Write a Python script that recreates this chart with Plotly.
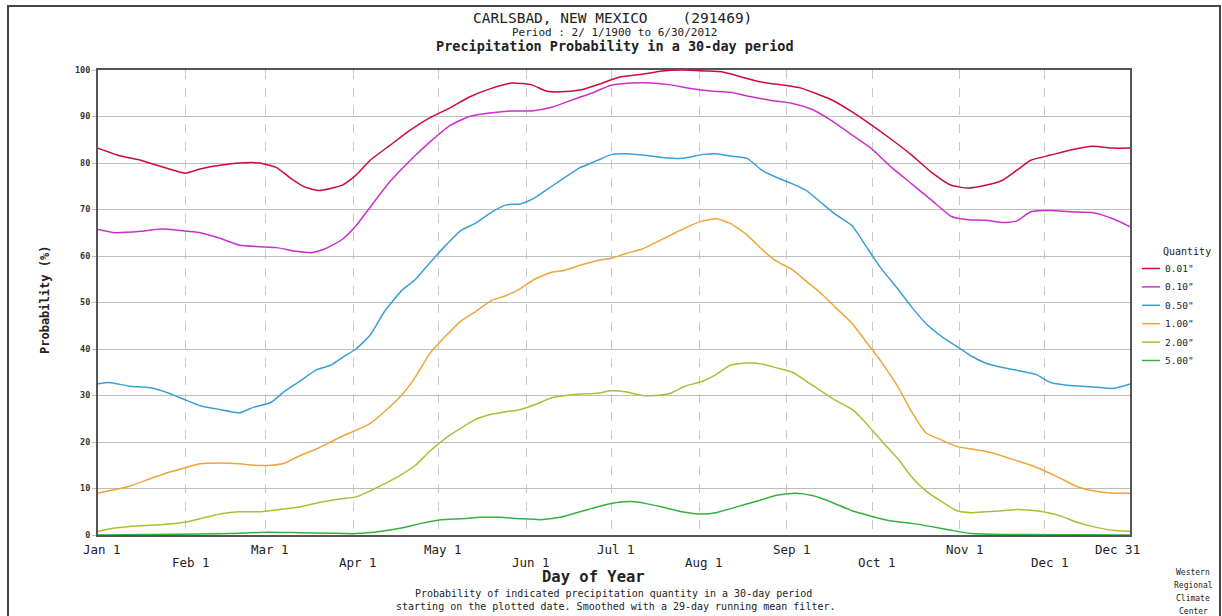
import plotly.graph_objects as go

# ---- data: day of year (0 = Jan 1) and probability (%) per quantity ----
days_001 = [0, 8, 15, 22, 29, 31, 36, 43, 50, 57, 63, 68, 73, 78, 86, 91, 96, 103, 110, 117,
            124, 131, 139, 146, 153, 158, 163, 170, 177, 184, 192, 199, 206, 214, 220, 227, 234, 241, 248, 253,
            259, 266, 273, 280, 287, 294, 301, 307, 313, 319, 324, 329, 336, 343, 351, 358, 364]
prob_001 = [83.2, 81.5, 80.6, 79.3, 78, 77.8, 78.7, 79.5, 80, 80, 79, 76.7, 74.8, 74.1, 75.2, 77.4, 80.6, 83.8, 87, 89.7,
            91.8, 94.2, 96.1, 97.2, 96.8, 95.5, 95.3, 95.7, 97, 98.5, 99.1, 99.8, 100, 99.8, 99.6, 98.5, 97.4, 96.8, 96.1, 95,
            93.5, 91, 88.1, 85, 81.7, 78, 75.2, 74.6, 75.2, 76.3, 78.4, 80.6, 81.7, 82.8, 83.6, 83.2, 83.2]

days_010 = [0, 6, 15, 22, 29, 36, 43, 50, 57, 63, 70, 75, 80, 86, 91, 96, 103, 110, 117, 124,
            131, 139, 146, 153, 160, 167, 174, 181, 188, 195, 202, 209, 216, 223, 230, 237, 245, 252, 259, 266,
            273, 280, 287, 294, 301, 307, 313, 319, 324, 329, 336, 343, 351, 358, 364]
prob_010 = [65.7, 65, 65.3, 65.8, 65.5, 65, 63.8, 62.3, 62, 61.8, 61, 60.7, 61.5, 63.5, 66.5, 70.5, 76, 80.5, 84.5, 88,
            90, 90.8, 91.2, 91.2, 92, 93.5, 95, 96.7, 97.2, 97.2, 96.8, 96, 95.5, 95.2, 94.3, 93.5, 92.8, 91.5, 89, 86,
            83, 79, 75.5, 72, 68.5, 67.8, 67.7, 67.2, 67.5, 69.5, 69.8, 69.5, 69.3, 68, 66.3]

days_050 = [0, 4, 11, 18, 25, 31, 36, 43, 50, 55, 61, 66, 71, 77, 82, 87, 91, 96, 101, 107,
            112, 117, 123, 128, 133, 139, 144, 149, 154, 160, 165, 170, 176, 181, 186, 192, 199, 206, 213, 218,
            223, 229, 234, 239, 245, 250, 255, 260, 266, 271, 276, 282, 287, 292, 298, 303, 308, 313, 319, 326,
            331, 336, 342, 347, 352, 358, 364]
prob_050 = [32.5, 32.8, 32, 31.7, 30.5, 29, 27.8, 27, 26.3, 27.5, 28.5, 31, 33, 35.5, 36.5, 38.5, 40, 43, 48, 52.5,
            55, 58.5, 62.5, 65.5, 67, 69.5, 71, 71.2, 72.5, 75, 77, 79, 80.5, 81.8, 82, 81.7, 81.2, 81, 81.8, 82,
            81.5, 81, 78.5, 77, 75.5, 74, 71.5, 69, 66.5, 62, 57.5, 53, 49, 45.5, 42.5, 40.5, 38.5, 37, 36, 35.2,
            34.5, 32.8, 32.2, 32, 31.8, 31.5, 32.5]

days_100 = [0, 4, 11, 18, 25, 31, 36, 43, 50, 55, 61, 66, 71, 77, 82, 87, 91, 96, 101, 107,
            112, 117, 123, 128, 133, 139, 144, 149, 154, 160, 165, 170, 176, 181, 186, 192, 197, 202, 207, 213,
            218, 223, 229, 234, 239, 245, 250, 255, 260, 266, 271, 276, 282, 287, 292, 298, 303, 308, 313, 319,
            324, 329, 335, 340, 345, 351, 358, 364]
prob_100 = [9, 9.5, 10.5, 12, 13.5, 14.5, 15.3, 15.5, 15.3, 15, 15, 15.5, 17, 18.5, 20, 21.5, 22.5, 24, 26.5, 30,
            34, 39, 43, 46, 48, 50.5, 51.5, 53, 55, 56.5, 57, 58, 59, 59.5, 60.5, 61.5, 63, 64.5, 66, 67.5,
            68, 67, 64.5, 61.5, 59, 57, 54.5, 52, 49, 45.5, 41.5, 37.5, 32, 26.5, 22, 20.3, 19, 18.5, 18, 17,
            16, 15, 13.5, 12, 10.5, 9.5, 9, 9]

days_200 = [0, 6, 15, 22, 31, 36, 43, 50, 57, 64, 71, 78, 86, 91, 96, 101, 107, 112, 117, 123,
            128, 133, 139, 144, 149, 154, 160, 165, 170, 176, 181, 186, 192, 197, 202, 207, 213, 218, 223, 229,
            234, 239, 245, 250, 255, 260, 266, 271, 276, 282, 287, 292, 298, 303, 308, 313, 319, 324, 329, 335,
            340, 345, 351, 358, 364]
prob_200 = [0.8, 1.5, 2, 2.2, 2.8, 3.5, 4.5, 5, 5, 5.5, 6, 7, 7.8, 8.2, 9.5, 11, 13, 15, 18, 21,
            23, 24.8, 26, 26.5, 27, 28, 29.5, 30, 30.3, 30.5, 31, 30.8, 30, 30, 30.5, 32, 33, 34.5, 36.5, 37,
            36.8, 36, 35, 33, 31, 29, 27, 24, 20.5, 16.5, 12.5, 9.5, 7, 5.2, 4.8, 5, 5.2, 5.5, 5.3, 4.8,
            4, 2.8, 1.8, 1, 0.8]

days_500 = [0, 18, 36, 50, 60, 71, 82, 91, 100, 107, 114, 121, 128, 135, 142, 149, 156, 163, 170, 177,
            183, 188, 193, 199, 206, 213, 218, 225, 232, 239, 246, 252, 259, 266, 273, 280, 287, 294, 301, 308,
            319, 364]
prob_500 = [0, 0.1, 0.2, 0.4, 0.6, 0.5, 0.4, 0.3, 0.8, 1.5, 2.5, 3.3, 3.5, 3.8, 3.8, 3.5, 3.3, 3.8, 5, 6.2,
            7, 7.2, 6.8, 6, 5, 4.5, 4.8, 6, 7.2, 8.5, 9, 8.5, 7, 5.2, 4, 3, 2.5, 1.8, 1, 0.3,
            0.1, 0]

series_names = ['0.01"', '0.10"', '0.50"', '1.00"', '2.00"', '5.00"']
series_colors = ["#cc0c3a", "#cc30cc", "#3a9fd6", "#eea53a", "#aebd36", "#33b040"]
series_days = [days_001, days_010, days_050, days_100, days_200, days_500]
series_probs = [prob_001, prob_010, prob_050, prob_100, prob_200, prob_500]

# month-start ticks (day of year) and their labels; labels alternate between two rows
tick_days = [0, 31, 59, 90, 120, 151, 181, 212, 243, 273, 304, 334, 364]
tick_text = ["Jan 1", "Feb 1", "Mar 1", "Apr 1", "May 1", "Jun 1", "Jul 1",
             "Aug 1", "Sep 1", "Oct 1", "Nov 1", "Dec 1", "Dec 31"]
y_ticks = list(range(0, 101, 10))

MONO = "DejaVu Sans Mono, Liberation Mono, monospace"

fig = go.Figure()
for name, color, d, p in zip(series_names, series_colors, series_days, series_probs):
    fig.add_trace(go.Scatter(x=d, y=p, mode="lines", name=name, showlegend=False,
                             line=dict(color=color, width=1.5, shape="spline", smoothing=0.5)))

# plot area in pixels: left 98, right 1130, top 70, bottom 535
W, H = 1222, 616
L, R, T, B = 98, 1130, 70, 535
pw, ph = R - L, B - T


def px(xp):
    return (xp - L) / pw


def py(yp):
    return (B - yp) / ph


def label(x, y, text, size, xanchor="center", **kw):
    return dict(x=px(x), y=py(y), xref="paper", yref="paper", text=text, showarrow=False,
                xanchor=xanchor, yanchor="middle", font=dict(family=MONO, size=size, color="#222"), **kw)


annotations = []
# x tick labels in two staggered rows
for i, (d, t) in enumerate(zip(tick_days, tick_text)):
    upper = (i % 2 == 0)
    shift = 5
    if i == 0:
        shift = 4
    elif i == len(tick_days) - 1:
        shift = -13
    annotations.append(dict(x=d, xref="x", y=py(549 if upper else 562), yref="paper",
                            text=t, showarrow=False, xanchor="center", yanchor="middle", xshift=shift,
                            font=dict(family=MONO, size=12.5, color="#222")))

# titles and notes
annotations += [
    label(612, 18, "CARLSBAD, NEW MEXICO    (291469)", 14.5),
    label(614, 32.5, "Period : 2/ 1/1900 to 6/30/2012", 11),
    label(615, 46, "<b>Precipitation Probability in a 30-day period</b>", 13.5),
    label(593, 577, "<b>Day of Year</b>", 15.5),
    label(613, 593, "Probability of indicated precipitation quantity in a 30-day period", 10),
    label(616, 606, "starting on the plotted date. Smoothed with a 29-day running mean filter.", 10),
    label(1193, 572, "Western", 8),
    label(1193, 585, "Regional", 8),
    label(1193, 598, "Climate", 8),
    label(1193, 611, "Center", 8),
    label(45, 300, "<b>Probability (%)</b>", 12, textangle=-90),
]

shapes = [
    # outer page frame
    dict(type="rect", xref="paper", yref="paper", x0=px(8), x1=px(1220), y0=py(640), y1=py(6),
         line=dict(color="#444", width=2), layer="below"),
]

# legend: short colored line plus quantity label, under a "Quantity" heading
annotations.append(label(1187, 252, "Quantity", 10))
for i, (name, color) in enumerate(zip(series_names, series_colors)):
    yy = 268.5 + 18.4 * i
    shapes.append(dict(type="line", xref="paper", yref="paper", x0=px(1142), x1=px(1160),
                       y0=py(yy), y1=py(yy), line=dict(color=color, width=1.5)))
    annotations.append(label(1163, yy, name, 9.5, xanchor="left"))

fig.update_layout(
    width=W, height=H,
    margin=dict(l=L, r=W - R, t=T, b=H - B),
    paper_bgcolor="white", plot_bgcolor="white",
    showlegend=False,
    annotations=annotations,
    shapes=shapes,
    xaxis=dict(range=[0, 364], tickvals=tick_days, showticklabels=False, ticks="",
               showgrid=True, gridcolor="#c8c8c8", griddash="dash", gridwidth=1,
               showline=True, linecolor="#555", linewidth=2, mirror=True, zeroline=False),
    yaxis=dict(range=[0, 100], tickvals=y_ticks, ticks="outside", ticklen=4, tickcolor="#bbb",
               tickfont=dict(family=MONO, size=8.5, color="#333", weight="bold"),
               showgrid=True, gridcolor="#bdbdbd", gridwidth=1,
               showline=True, linecolor="#555", linewidth=2, mirror=True, zeroline=False),
)

fig.write_html("out.html")
